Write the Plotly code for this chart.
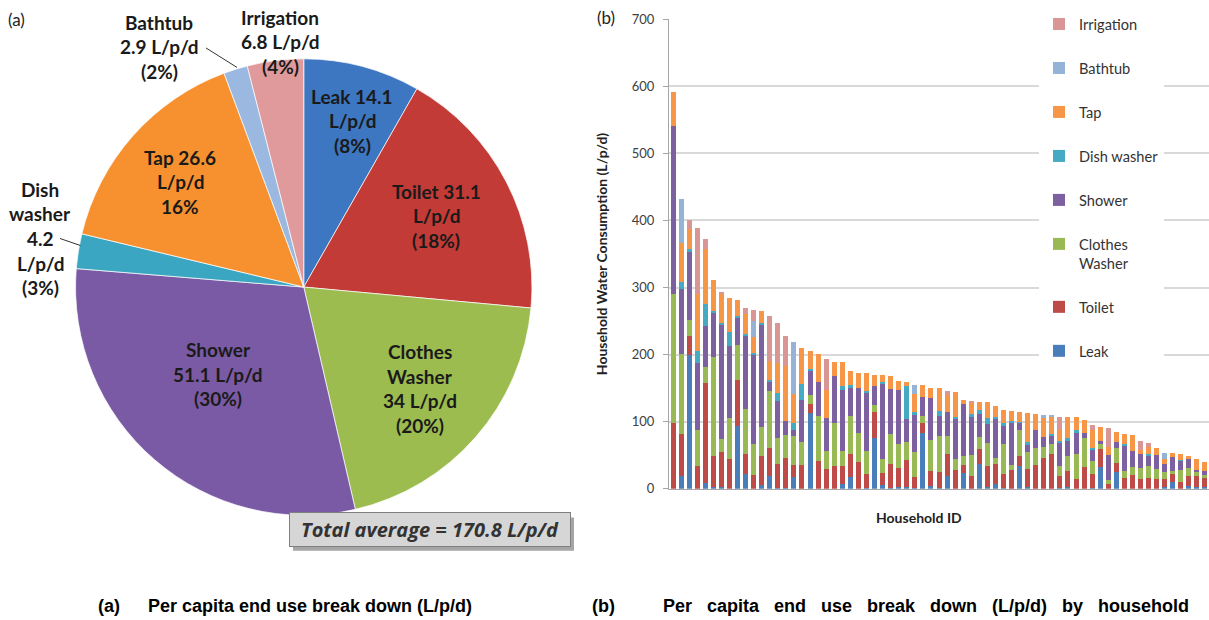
import plotly.graph_objects as go

W, H = 1209, 620

# ---- (a) pie: per capita end use (L/p/d)
pie_names = ["Leak", "Toilet", "Clothes Washer", "Shower", "Dish washer", "Tap", "Bathtub", "Irrigation"]
pie_values = [14.1, 31.1, 34, 51.1, 4.2, 26.6, 2.9, 6.8]
pie_pct = ["(8%)", "(18%)", "(20%)", "(30%)", "(3%)", "16%", "(2%)", "(4%)"]
pie_colors = ["#3d76c1", "#c23b36", "#9cbc50", "#7a5aa5", "#3aa6c2", "#f7912f", "#9bb9e0", "#e09a9b"]

# ---- (b) stacked bars per household (L/p/d), 67 households
households = list(range(1, 68))
leak = [0, 19, 200, 0, 8, 2, 2, 0, 94, 22,
        0, 6, 19, 1, 1.5, 17.5, 0, 112.5, 0, 0,
        0, 6.5, 18, 0, 1.5, 75.5, 5.5, 1.5, 3, 3,
        1.5, 83.5, 3.5, 1.5, 19, 0, 23, 0, 36.5, 3,
        7.5, 1, 0, 34, 2.5, 0, 0, 0, 1.5, 2.5,
        0, 0, 1.5, 32.5, 0, 25.5, 0, 0, 0, 0,
        0, 2, 9.5, 0, 4.5, 2, 2]
toilet = [98, 62, 27, 34, 150, 47, 53, 44, 68, 30,
          20, 43.5, 42, 35.5, 44.5, 17.5, 35, 14, 41, 30,
          33.5, 27.5, 34.5, 40, 21, 38.5, 18.5, 36, 28.5, 39.5,
          16.5, 14, 22.5, 24, 33.5, 28.5, 12.5, 19.5, 23.5, 31,
          29, 20.5, 27.5, 15, 27.5, 35, 46.5, 52.5, 17.5, 24,
          15, 32.5, 21, 27.5, 7.5, 13.5, 16.5, 20.5, 14.5, 16.5,
          14.5, 12.5, 12, 10.5, 15, 17.5, 13.5]
washer = [192, 120, 25, 53, 23, 147, 19, 61, 53, 67,
          47, 42, 85, 38.5, 34, 43.5, 34, 13.5, 68, 26.5,
          64, 22.5, 55.5, 43, 34, 11.5, 21, 44, 34.5, 27,
          37, 10.5, 46.5, 53, 26, 15.5, 13.5, 31.5, 17.5, 34,
          10, 45, 8, 38.5, 25, 26.5, 16.5, 14, 15, 22.5,
          36.5, 43, 19, 6.5, 5, 21.5, 10, 11.5, 16, 17.5,
          14.5, 11, 5, 17.5, 12, 5, 5]
shower = [251, 97, 101, 100, 62, 67, 171, 108, 40, 109,
          132, 153, 12.5, 56, 21.5, 9, 63.5, 36.5, 50, 49.5,
          71, 91, 42.5, 67.5, 86, 28, 111.5, 67, 81.5, 34.5,
          55, 29.5, 62.5, 29.5, 35.5, 60, 77.5, 56, 34, 28.5,
          58, 27, 62, 11, 10, 26, 13.5, 12.5, 35, 22.5,
          31.5, 7, 16, 4, 38, 8.5, 38, 25, 21, 15.5,
          21.5, 11.5, 21.5, 13.5, 12.5, 3, 6.5]
dish = [0, 10, 4, 19, 32, 1.5, 2.5, 21, 2, 3,
        4, 2, 4, 11.5, 0, 11, 24, 2, 0, 0,
        0, 6, 3.5, 0, 3, 0, 2.5, 0, 0, 49.5,
        5, 0, 0, 8.5, 0, 3.5, 0, 4, 6.5, 8.5,
        3, 4, 3, 1.5, 5, 0, 0, 2.5, 2.5, 3.5,
        4.5, 0, 4, 0, 0, 0, 2, 0, 0, 2,
        0, 0, 0, 1.5, 0, 0, 0]
tap = [50, 59, 30, 84, 83, 46, 44, 51, 25, 30,
       23, 18.5, 27.5, 45, 81, 43, 53.5, 27.5, 42.5, 41.5,
       20.5, 35, 21, 22, 27.5, 16.5, 11, 19, 12.5, 5.5,
       26.5, 16.5, 15.5, 33.5, 26, 36.5, 6.5, 16.5, 12, 25,
       15.5, 20, 15.5, 15, 43, 24, 29, 26, 16.5, 31.5,
       19, 20, 26, 21, 12.5, 15, 15.5, 23.5, 6.5, 11.5,
       10, 7, 6, 9, 5, 16.5, 12.5]
bathtub = [0, 65, 0, 0, 0, 0, 0, 0, 0, 0,
           24, 0, 0, 0, 0, 77.5, 0, 0, 0, 0,
           0, 0, 0, 0, 0, 0, 0, 0, 0, 0,
           12.5, 0, 0, 0, 0, 0, 0, 0, 0, 0,
           0, 0, 0, 0, 0, 0, 4.5, 3, 0, 0,
           0, 0, 0, 0, 0, 0, 0, 0, 0, 0,
           0, 10, 0, 0, 0, 0, 0]
irrigation = [0, 0, 13, 98, 14, 0, 2.5, 0, 0, 8.5,
              16, 0, 67.5, 60, 45, 0, 0, 0, 0, 46.5,
              0, 0, 0, 0, 0, 0, 0, 0, 0, 0,
              0, 0, 0, 0, 5.5, 0, 0, 4, 0, 0,
              0, 0, 0, 0, 0, 0, 0, 0, 18.5, 0,
              0, 0, 8, 0, 27.5, 0, 0, 0, 12.5, 5,
              0, 0, 0, 0, 0, 0, 0]

bar_series = [
    ("Leak", leak, "#4a7ebb"),
    ("Toilet", toilet, "#be4b48"),
    ("Clothes<br>Washer", washer, "#98b954"),
    ("Shower", shower, "#7d60a0"),
    ("Dish washer", dish, "#46aac5"),
    ("Tap", tap, "#f79646"),
    ("Bathtub", bathtub, "#95b3d7"),
    ("Irrigation", irrigation, "#d99694"),
]


def px(x, y):
    # pixel position in the page -> paper coords
    return x / W, 1 - y / H


fig = go.Figure()

fig.add_trace(go.Pie(
    labels=pie_names,
    values=pie_values,
    sort=False,
    direction="clockwise",
    rotation=0,
    marker=dict(colors=pie_colors, line=dict(color="rgba(255,255,255,0.7)", width=1)),
    textinfo="none",
    showlegend=False,
    domain=dict(x=[69.5 / W, 538 / W], y=[1 - 520.7 / H, 1 - 52.2 / H]),
))

# stacked from the bottom (Leak) up; legend lists Irrigation first
for i, (name, vals, col) in enumerate(bar_series):
    fig.add_trace(go.Bar(
        x=households, y=vals, name=name, marker_color=col,
        marker_line_width=0, legendgroup=name, legendrank=len(bar_series) - i,
    ))

fig.update_layout(
    width=W, height=H,
    margin=dict(l=0, r=0, t=0, b=0),
    paper_bgcolor="white", plot_bgcolor="white",
    barmode="stack", bargap=0.38,
    font=dict(family="Lato", color="#222"),
    legend=dict(
        x=1039 / W, y=1.0, xanchor="left", yanchor="top",
        traceorder="grouped", tracegroupgap=22, valign="top",
        font=dict(family="Lato", size=14.6, color="#333"),
        bgcolor="white",
    ),
)

fig.update_xaxes(
    domain=[669 / W, 1.0], range=[0.5, 67.5],
    showticklabels=False, ticks="", showgrid=False,
    showline=True, linecolor="#a6a6a6", linewidth=1,
)
fig.update_yaxes(
    domain=[1 - 493.5 / H, 1 - 11.5 / H], range=[0, 700],
    tickvals=list(range(0, 701, 100)),
    tickfont=dict(family="Lato", size=13, color="#404040"),
    ticks="outside", ticklen=5, tickcolor="#a6a6a6", ticklabelstandoff=6,
    showgrid=True, gridcolor="#d9d9d9", gridwidth=1.5,
    showline=True, linecolor="#a6a6a6", linewidth=1, zeroline=False,
    title=dict(text="<b>Household Water Consumption (L/p/d)</b>",
               font=dict(family="Lato", size=14, color="#222"), standoff=20),
)

# ---- pie labels (one annotation per line)
label_font = dict(family="Lato", size=19, color="#1a1a1a")
pie_label_lines = [
    ((352, 90.7), ["Leak 14.1", "L/p/d", pie_pct[0]]),
    ((436, 188.3), ["Toilet 31.1", "L/p/d", pie_pct[1]]),
    ((420, 352.7), ["Clothes", "Washer", "34 L/p/d", pie_pct[2]]),
    ((218, 350.7), ["Shower", "51.1 L/p/d", pie_pct[3]]),
    ((40, 186.2), ["Dish", "washer", "4.2", "L/p/d", pie_pct[4]]),
    ((180, 153.3), ["Tap 26.6", "L/p/d", pie_pct[5]]),
    ((159, 14.5), ["Bathtub", "2.9 L/p/d", pie_pct[6]]),
    ((280, 9.5), ["Irrigation", "6.8 L/p/d", pie_pct[7]]),
]
for (cx, cy), lines in pie_label_lines:
    for i, t in enumerate(lines):
        ax_, ay_ = px(cx, cy + i * 25.2)
        fig.add_annotation(x=ax_, y=ay_, xref="paper", yref="paper",
                           text="<b>%s</b>" % t, showarrow=False,
                           font=label_font, xanchor="center", yanchor="middle")

# leader lines for the two small outside labels
for (x0, y0), (x1, y1) in [((206, 41), (237, 61)), ((60, 236.6), (80.4, 243.8))]:
    a0, b0 = px(x0, y0)
    a1, b1 = px(x1, y1)
    fig.add_shape(type="line", xref="paper", yref="paper", x0=a0, y0=b0, x1=a1, y1=b1,
                  line=dict(color="#333", width=1))

# total average box with shadow
sx0, sy0 = px(293, 523)
sx1, sy1 = px(574, 557)
fig.add_shape(type="rect", xref="paper", yref="paper", x0=sx0, y0=sy0, x1=sx1, y1=sy1,
              fillcolor="#a6a6a6", line_width=0, layer="above")
tx, ty = px(430, 535.7)
fig.add_annotation(x=tx, y=ty, xref="paper", yref="paper", showarrow=False,
                   text="<b><i>Total average = %.1f L/p/d</i></b>" % sum(pie_values),
                   font=dict(family="Open Sans", size=20, color="#333"),
                   bgcolor="#d6d6d6", bordercolor="#7f7f7f", borderwidth=1,
                   width=278, height=31, xanchor="center", yanchor="middle")

# x axis title
xt, yt = px(919, 523.3)
fig.add_annotation(x=xt, y=yt, xref="paper", yref="paper", showarrow=False,
                   xanchor="center", yanchor="middle",
                   text="<b>Household ID</b>", font=dict(family="Lato", size=14, color="#222"))

# panel tags and captions
for (x, y), t in [((6, 11.5), "(a)"), ((595, 9.5), "(b)")]:
    a, b = px(x, y)
    fig.add_annotation(x=a, y=b, xref="paper", yref="paper", showarrow=False, text=t,
                       xanchor="left", yanchor="middle",
                       font=dict(family="Lato", size=17, color="#222"))

sp = "\u00a0"
cap_font = dict(family="Liberation Sans", size=18, color="black")
cap_b = (sp * 3).join("Per capita end use break down (L/p/d) by household".split(" "))
for (x, y), t in [((95.6, 614), "(a)"), ((146, 614), "Per capita end use break down (L/p/d)"),
                  ((589.6, 614), "(b)"), ((661, 614), cap_b)]:
    a, b = px(x, y)
    fig.add_annotation(x=a, y=b, xref="paper", yref="paper", showarrow=False,
                       text="<b>%s</b>" % t, xanchor="left", yanchor="middle", font=cap_font)

fig.write_html("out.html", config={"displayModeBar": False},
               post_script="document.body.style.margin='0';")
